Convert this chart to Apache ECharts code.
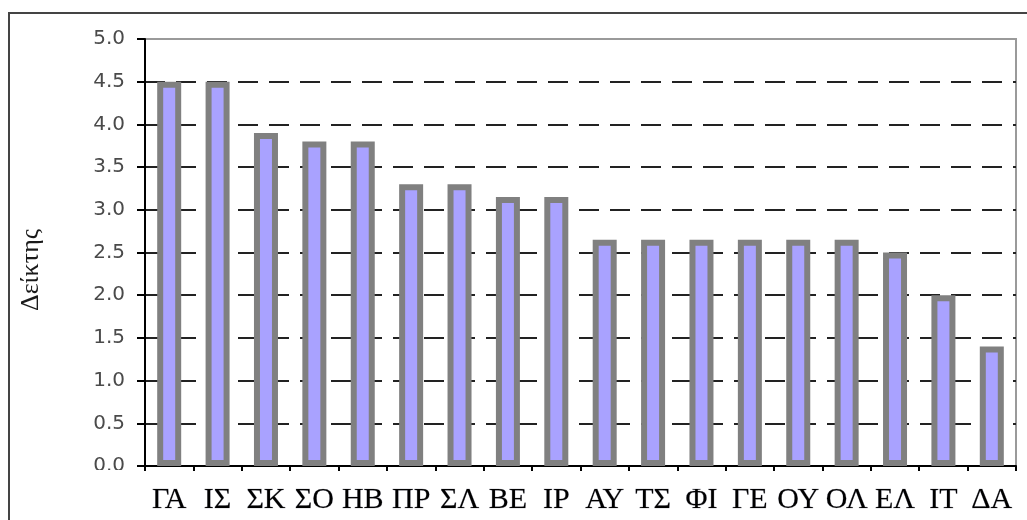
<!DOCTYPE html>
<html>
<head>
<meta charset="utf-8">
<script src="https://cdn.jsdelivr.net/npm/echarts@6/dist/echarts.min.js"></script>
<style>
  html, body { margin: 0; padding: 0; background: #fff; }
  #chart { width: 1027px; height: 520px; }
</style>
</head>
<body>
<div id="chart"></div>
<script>
// Index per unit
const categories = ['ΓΑ', 'ΙΣ', 'ΣΚ', 'ΣΟ', 'ΗΒ', 'ΠΡ', 'ΣΛ', 'ΒΕ', 'ΙΡ', 'ΑΥ', 'ΤΣ', 'ΦΙ', 'ΓΕ', 'ΟΥ', 'ΟΛ', 'ΕΛ', 'ΙΤ', 'ΔΑ'];
const values = [4.5, 4.5, 3.9, 3.8, 3.8, 3.3, 3.3, 3.15, 3.15, 2.65, 2.65, 2.65, 2.65, 2.65, 2.65, 2.5, 2.0, 1.4];
const yTicks = { min: 0, max: 5, interval: 0.5 };
const yAxisTitle = 'Δείκτης';

const chart = echarts.init(document.getElementById('chart'), null, { renderer: 'canvas' });

chart.setOption({
  animation: false,
  backgroundColor: '#ffffff',
  grid: {
    left: 145, right: 11, top: 39, bottom: 54,
    show: true,
    borderColor: '#9a9a9a',
    borderWidth: 2,
    backgroundColor: 'transparent'
  },
  xAxis: {
    type: 'category',
    data: categories,
    boundaryGap: true,
    axisLine: { show: true, lineStyle: { color: '#000', width: 2 } },
    axisTick: { show: true, inside: false, length: 5, alignWithLabel: false, lineStyle: { color: '#000', width: 2 } },
    axisLabel: {
      interval: 0,
      margin: 19,
      color: '#000',
      fontFamily: '"Liberation Serif", "DejaVu Serif", serif',
      fontSize: 30,
      textBorderColor: 'rgba(0,0,40,0.35)',
      textBorderWidth: 0.6
    },
    splitLine: { show: false }
  },
  yAxis: {
    type: 'value',
    min: yTicks.min,
    max: yTicks.max,
    interval: yTicks.interval,
    axisLine: { show: true, lineStyle: { color: '#000', width: 2 } },
    axisTick: { show: true, inside: false, length: 8, lineStyle: { color: '#000', width: 2 } },
    axisLabel: {
      margin: 20,
      color: '#4a4a4a',
      fontFamily: '"DejaVu Sans", sans-serif',
      fontSize: 20,
      formatter: v => v.toFixed(1)
    },
    splitLine: {
      show: true,
      showMinLine: false,
      showMaxLine: false,
      lineStyle: { color: '#222', width: 2, type: [20, 11] }
    }
  },
  series: [{
    type: 'bar',
    data: values,
    barWidth: 24,
    itemStyle: {
      color: '#a9a2ff',
      borderColor: '#808080',
      borderWidth: 6
    },
    z: 3
  }],
  graphic: [
    {
      type: 'rect',
      z: 100,
      silent: true,
      shape: { x: 9, y: 13, width: 1040, height: 540 },
      style: { fill: 'none', stroke: '#444', lineWidth: 2 }
    },
    {
      type: 'rect',
      z: 90,
      silent: true,
      shape: { x: 70, y: 470, width: 64, height: 16 },
      style: { fill: '#fff' }
    },
    {
      type: 'text',
      z: 100,
      x: 31,
      y: 270,
      rotation: Math.PI / 2,
      style: {
        text: yAxisTitle,
        fill: '#1a1a1a',
        font: '26px "Liberation Serif", "DejaVu Serif", serif',
        align: 'center',
        verticalAlign: 'middle'
      }
    }
  ]
});
</script>
</body>
</html>
